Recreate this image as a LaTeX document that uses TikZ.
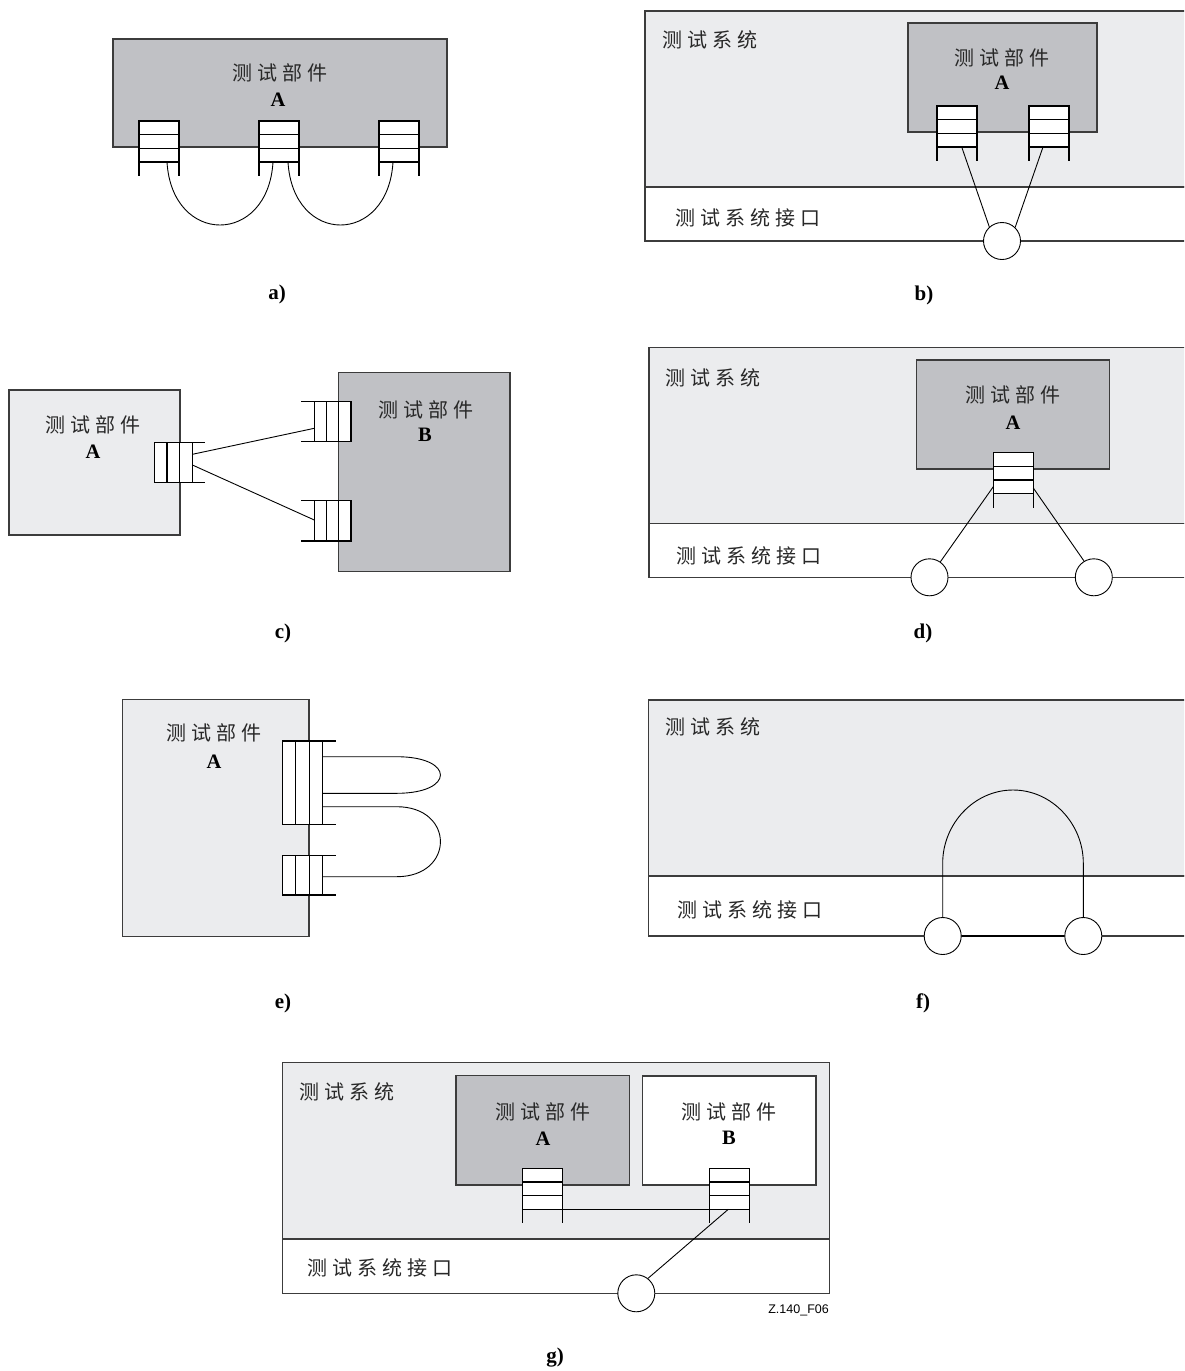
\documentclass[tikz,border=0pt]{standalone}
\usepackage{fontspec}
\setmainfont{Liberation Serif}
\setsansfont{Liberation Sans}
\newfontfamily\cjk{Noto Sans CJK SC}
\newcommand\gapc{\hspace{5pt}}
\definecolor{darkc}{RGB}{192,193,197}
\definecolor{lightc}{RGB}{235,236,238}
\definecolor{boxc}{RGB}{60,60,60}
\definecolor{txtc}{RGB}{40,40,40}
\tikzset{
  box/.style={draw=boxc, line width=1.1pt},
  dark/.style={box, fill=darkc},
  light/.style={box, fill=lightc},
  plain/.style={box, fill=white},
  wire/.style={draw=black, line width=0.9pt},
  cjkt/.style={font=\cjk\fontsize{20}{24}\selectfont, inner sep=0pt, text=txtc},
  lett/.style={font=\fontsize{20.5}{24}\selectfont\bfseries, inner sep=0pt},
  caption/.style={font=\fontsize{21}{25}\selectfont\bfseries, inner sep=0pt},
  term/.style={circle, draw=black, line width=0.9pt, fill=white, minimum size=37pt, inner sep=0pt},
  portl/.style={draw=black, line width=1.2pt},
  pics/vport/.style={code={
    \fill[white] (0,0) rectangle (40,41);
    \draw[portl] (0,0) rectangle (40,41) (0,13.7) -- (40,13.7) (0,27.3) -- (40,27.3)
      (0,41) -- (0,55) (40,41) -- (40,55);
    \coordinate (-bl) at (0,41);
    \coordinate (-br) at (40,41);
  }},
  pics/rport/.style 2 args={code={
    \fill[white] (0,0) rectangle (3*#2,#1);
    \draw[portl] (0,0) rectangle (3*#2,#1) (#2,0) -- (#2,#1) (2*#2,0) -- (2*#2,#1)
      (3*#2,0) -- (4*#2,0) (3*#2,#1) -- (4*#2,#1);
  }},
  pics/lport/.style 2 args={code={
    \fill[white] (13.3,0) rectangle (13.3+3*#2,#1);
    \draw[portl] (13.3,0) rectangle (13.3+3*#2,#1) (13.3+#2,0) -- (13.3+#2,#1)
      (13.3+2*#2,0) -- (13.3+2*#2,#1)
      (0,0) -- (13.3,0) (0,#1) -- (13.3,#1);
  }},
}
\begin{document}
\begin{tikzpicture}[x=1pt,y=-1pt]
\useasboundingbox (0,0) rectangle (1184,1371);
\begin{scope}
\clip (0,0) rectangle (1184,1371);
\fill[white] (0,0) rectangle (1184,1371);

% ---------- a)
\draw[dark] (113,39) rectangle (447,147);
\node[cjkt] (at1) at (280,73) {测\gapc 试\gapc 部\gapc 件};
\node[lett] (at2) at (278,100) {A};
\pic (pa1) at (139,121) {vport};
\pic (pa2) at (259,121) {vport};
\pic (pa3) at (379,121) {vport};
\coordinate (a1) at (167,162);
\coordinate (a2) at (273,162);
\coordinate (a3) at (288,162);
\coordinate (a4) at (393,162);
\draw[wire] (a1) .. controls (172,246) and (268,246) .. (a2);
\draw[wire] (a3) .. controls (293,246) and (388,246) .. (a4);
\node[caption] (capa) at (277,294) {a)};

% ---------- b)
\draw[light] (645,11) rectangle (1195,187);
\draw[plain] (645,187) rectangle (1195,241);
\node[cjkt, anchor=west] (bt1) at (662,40) {测\gapc 试\gapc 系\gapc 统};
\node[cjkt, anchor=west] (bt2) at (675,218) {测\gapc 试\gapc 系\gapc 统\gapc 接\gapc 口};
\draw[dark] (908,23) rectangle (1097,132);
\node[cjkt] (bt3) at (1002,58) {测\gapc 试\gapc 部\gapc 件};
\node[lett] (bt4) at (1002,83) {A};
\pic (pb1) at (937,106) {vport};
\pic (pb2) at (1029,106) {vport};
\node[term] (cb) at (1002,241) {};
\coordinate (b1) at (961.7,147);
\coordinate (b2) at (1043,147);
\draw[wire] (b1) -- (cb.132);
\draw[wire] (b2) -- (cb.46);
\node[caption] (capb) at (924,295) {b)};

% ---------- c)
\draw[light] (9,390) rectangle (180,535);
\draw[dark] (338.3,372.3) rectangle (510,571.7);
\node[cjkt] (ct1) at (93,425) {测\gapc 试\gapc 部\gapc 件};
\node[lett] (ct2) at (93,452) {A};
\node[cjkt] (ct3) at (426,410) {测\gapc 试\gapc 部\gapc 件};
\node[lett] (ct4) at (425,435) {B};
\pic (pc1) at (154.3,442.7) {rport={39.6}{12.7}};
\pic (pc2) at (301,401.7) {lport={40}{12.2}};
\pic (pc3) at (301,500.7) {lport={40.3}{12.2}};
\coordinate (c1) at (192.4,454.3);
\coordinate (c2) at (192.4,465);
\coordinate (c3) at (314.3,428.3);
\coordinate (c4) at (314.3,520);
\draw[wire] (c1) -- (c3);
\draw[wire] (c2) -- (c4);
\node[caption] (capc) at (283,633) {c)};

% ---------- d)
\draw[light] (649,347.3) rectangle (1195,523.3);
\draw[plain] (649,523.3) rectangle (1195,577.3);
\node[cjkt, anchor=west] (dt1) at (665,378) {测\gapc 试\gapc 系\gapc 统};
\node[cjkt, anchor=west] (dt2) at (676,556) {测\gapc 试\gapc 系\gapc 统\gapc 接\gapc 口};
\draw[dark] (916.7,360) rectangle (1109.3,469);
\node[cjkt] (dt3) at (1013,395) {测\gapc 试\gapc 部\gapc 件};
\node[lett] (dt4) at (1013,423) {A};
\pic (pd1) at (993.3,452.7) {vport};
\node[term] (cd1) at (929.5,577.3) {};
\node[term] (cd2) at (1093.8,577.3) {};
\coordinate (d1) at (993.3,486.7);
\coordinate (d2) at (1033.3,488);
\draw[wire] (d1) -- (cd1.55);
\draw[wire] (d2) -- (cd2.121);
\node[caption] (capd) at (923,633) {d)};

% ---------- e)
\draw[light] (122.7,699.3) rectangle (309,936.7);
\node[cjkt] (et1) at (214,733) {测\gapc 试\gapc 部\gapc 件};
\node[lett] (et2) at (214,762) {A};
\pic (pe1) at (282.3,741) {rport={83.3}{13.5}};
\pic (pe2) at (282.3,855.7) {rport={39.3}{13.5}};
\coordinate (e1) at (322.8,756.7);
\coordinate (e2) at (322.8,793.3);
\coordinate (e3) at (322.8,806.7);
\coordinate (e4) at (322.8,876.7);
\draw[wire] (e1) -- (396.7,756.7) .. controls (455,756.7) and (455,793.3) .. (396.7,793.3) -- (e2);
\draw[wire] (e3) -- (396.7,806.7) .. controls (455,806.7) and (455,876.7) .. (396.7,876.7) -- (e4);
\node[caption] (cape) at (283,1003) {e)};

% ---------- f)
\draw[light] (648.3,700) rectangle (1195,876);
\draw[plain] (648.3,876) rectangle (1195,936);
\node[cjkt, anchor=west] (ft1) at (665,727) {测\gapc 试\gapc 系\gapc 统};
\node[cjkt, anchor=west] (ft2) at (677,910) {测\gapc 试\gapc 系\gapc 统\gapc 接\gapc 口};
\node[term] (cf1) at (942.7,936) {};
\node[term] (cf2) at (1083.3,936) {};
\draw[wire] (cf1.north) -- (942.7,863) .. controls (942.7,824) and (974,790) .. (1013,790)
  .. controls (1052,790) and (1083.3,824) .. (1083.3,863) -- (cf2.north);
\draw[line width=1.5pt] (cf1.east) -- (cf2.west);
\node[caption] (capf) at (923,1003) {f)};

% ---------- g)
\draw[light] (282.7,1062.3) rectangle (829.3,1239);
\draw[plain] (282.7,1239) rectangle (829.3,1293.3);
\node[cjkt, anchor=west] (gt1) at (299,1092) {测\gapc 试\gapc 系\gapc 统};
\node[cjkt, anchor=west] (gt2) at (307,1268) {测\gapc 试\gapc 系\gapc 统\gapc 接\gapc 口};
\draw[dark] (456,1075.7) rectangle (629.3,1185);
\draw[plain] (642.7,1076) rectangle (816,1185);
\node[cjkt] (gt3) at (543,1112) {测\gapc 试\gapc 部\gapc 件};
\node[lett] (gt4) at (543,1139) {A};
\node[cjkt] (gt5) at (729,1112) {测\gapc 试\gapc 部\gapc 件};
\node[lett] (gt6) at (729,1138) {B};
\pic (pg1) at (522.3,1168.3) {vport};
\pic (pg2) at (709.3,1168.3) {vport};
\node[term] (cg) at (636.3,1293.3) {};
\coordinate (g1) at (728.3,1209.3);
\draw[wire] (pg1-br) -- (pg2-bl);
\draw[wire] (g1) -- (cg.52);
\node[font=\sffamily\fontsize{12.5}{14}\selectfont, inner sep=0pt, anchor=east] (gid) at (829,1310) {Z.140\_F06};
\node[caption] (capg) at (555,1358) {g)};
\end{scope}
\end{tikzpicture}
\end{document}
